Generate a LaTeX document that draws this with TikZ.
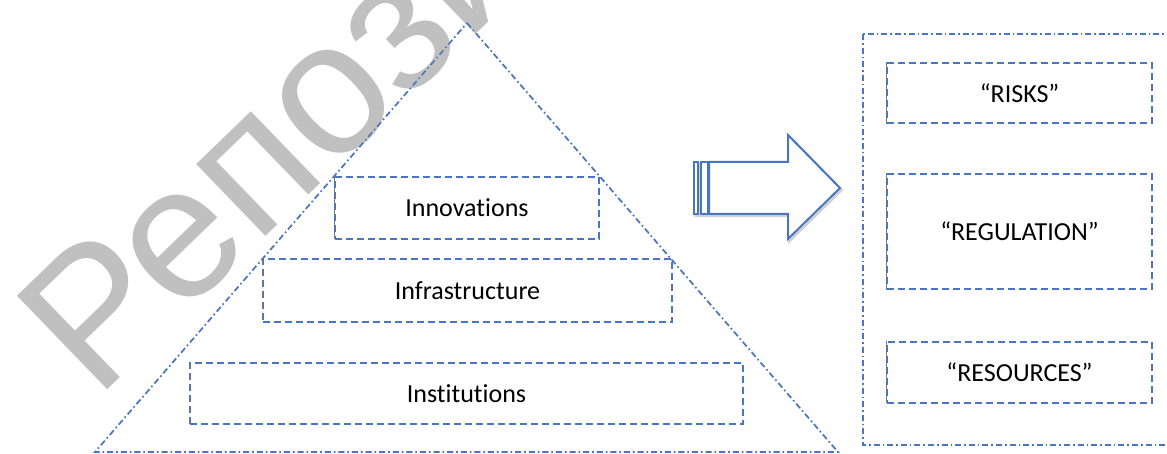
\documentclass[tikz,border=0pt]{standalone}
\usepackage{fontspec}
\setmainfont{Carlito}[RawFeature={-liga}]
\newfontfamily\wmfont{Liberation Sans}
\begin{document}
\definecolor{lineblue}{RGB}{72,118,194}
\definecolor{shadowgray}{RGB}{208,208,208}
\definecolor{wmark}{RGB}{192,192,192}
\definecolor{edgegray}{RGB}{120,120,120}
\tikzset{
  dashdot/.style={line width=1.6pt, dash pattern=on 6pt off 3pt on 1.6pt off 3pt},
  dashdotshadow/.style={dashdot, draw=shadowgray, line width=1.8pt},
  boxline/.style={draw=lineblue, line width=1.7pt, dash pattern=on 7pt off 4pt},
  layerbox/.style={boxline, inner sep=0pt, font=\fontsize{26}{30}\selectfont},
  leftedge/.style={edgegray, line width=1.1pt, dash pattern=on 7pt off 4pt},
  arrowline/.style={draw=lineblue, line width=2pt, line join=miter},
  arrowshadow/.style={draw=shadowgray, line width=2.5pt, line join=miter}
}
\begin{tikzpicture}[x=1pt, y=-1pt]
  \useasboundingbox (0,0) rectangle (1167,454);
  \clip (0,0) rectangle (1167,454);

  % repository watermark
  \node[wmark, rotate=44, anchor=base west, inner sep=0pt,
        font=\wmfont\fontsize{189}{189}\selectfont] (wm) at (96,401) {Репозиторий};

  % pyramid outline
  \coordinate (apex) at (467,23);
  \coordinate (bl) at (95,452);
  \coordinate (br) at (838,452);
  \draw[dashdotshadow, shift={(1.8,1.8)}] (apex) -- (br) -- (bl) -- cycle;
  \draw[dashdot, lineblue] (apex) -- (br) -- (bl) -- cycle;

  % pyramid layers
  \node[layerbox, minimum width=264pt, minimum height=62pt] (innov) at (467,208) {Innovations};
  \node[layerbox, minimum width=409pt, minimum height=63pt] (infra) at (467.5,290.5) {Infrastructure};
  \node[layerbox, minimum width=553pt, minimum height=61pt] (inst) at (466.5,393.5) {Institutions};
  \foreach \n in {innov,infra,inst}
    \draw[leftedge] (\n.north west) -- (\n.south west);

  % striped block arrow
  \draw[arrowshadow, shift={(1.5,2)}]
    (709,162) -- (788,162) -- (788,135) -- (840,188) -- (788,239) -- (788,214) -- (709,214) -- cycle
    (694,162) rectangle (698,214) (701,162) rectangle (708,214);
  \draw[arrowline, fill=white]
    (709,162) -- (788,162) -- (788,135) -- (840,188) -- (788,239) -- (788,214) -- (709,214) -- cycle;
  \draw[arrowline, line width=1.6pt, fill=white] (694,162) rectangle (698,214);
  \draw[arrowline, line width=1.6pt, fill=white] (701,162) rectangle (708,214);

  % container on the right
  \coordinate (cnw) at (863,34);
  \coordinate (cse) at (1185,445);
  \draw[dashdotshadow, shift={(1.8,1.8)}] (cnw) rectangle (cse);
  \draw[dashdot, lineblue] (cnw) rectangle (cse);

  \node[layerbox, minimum width=265pt, minimum height=60pt] (risks) at (1019.5,93) {“RISKS”};
  \node[layerbox, minimum width=265pt, minimum height=115pt] (reg) at (1019.5,231.5) {“REGULATION”};
  \node[layerbox, minimum width=265pt, minimum height=61pt] (res) at (1019.5,372.5) {“RESOURCES”};
  \foreach \n in {risks,reg,res}
    \draw[leftedge] (\n.north west) -- (\n.south west);
\end{tikzpicture}
\end{document}
